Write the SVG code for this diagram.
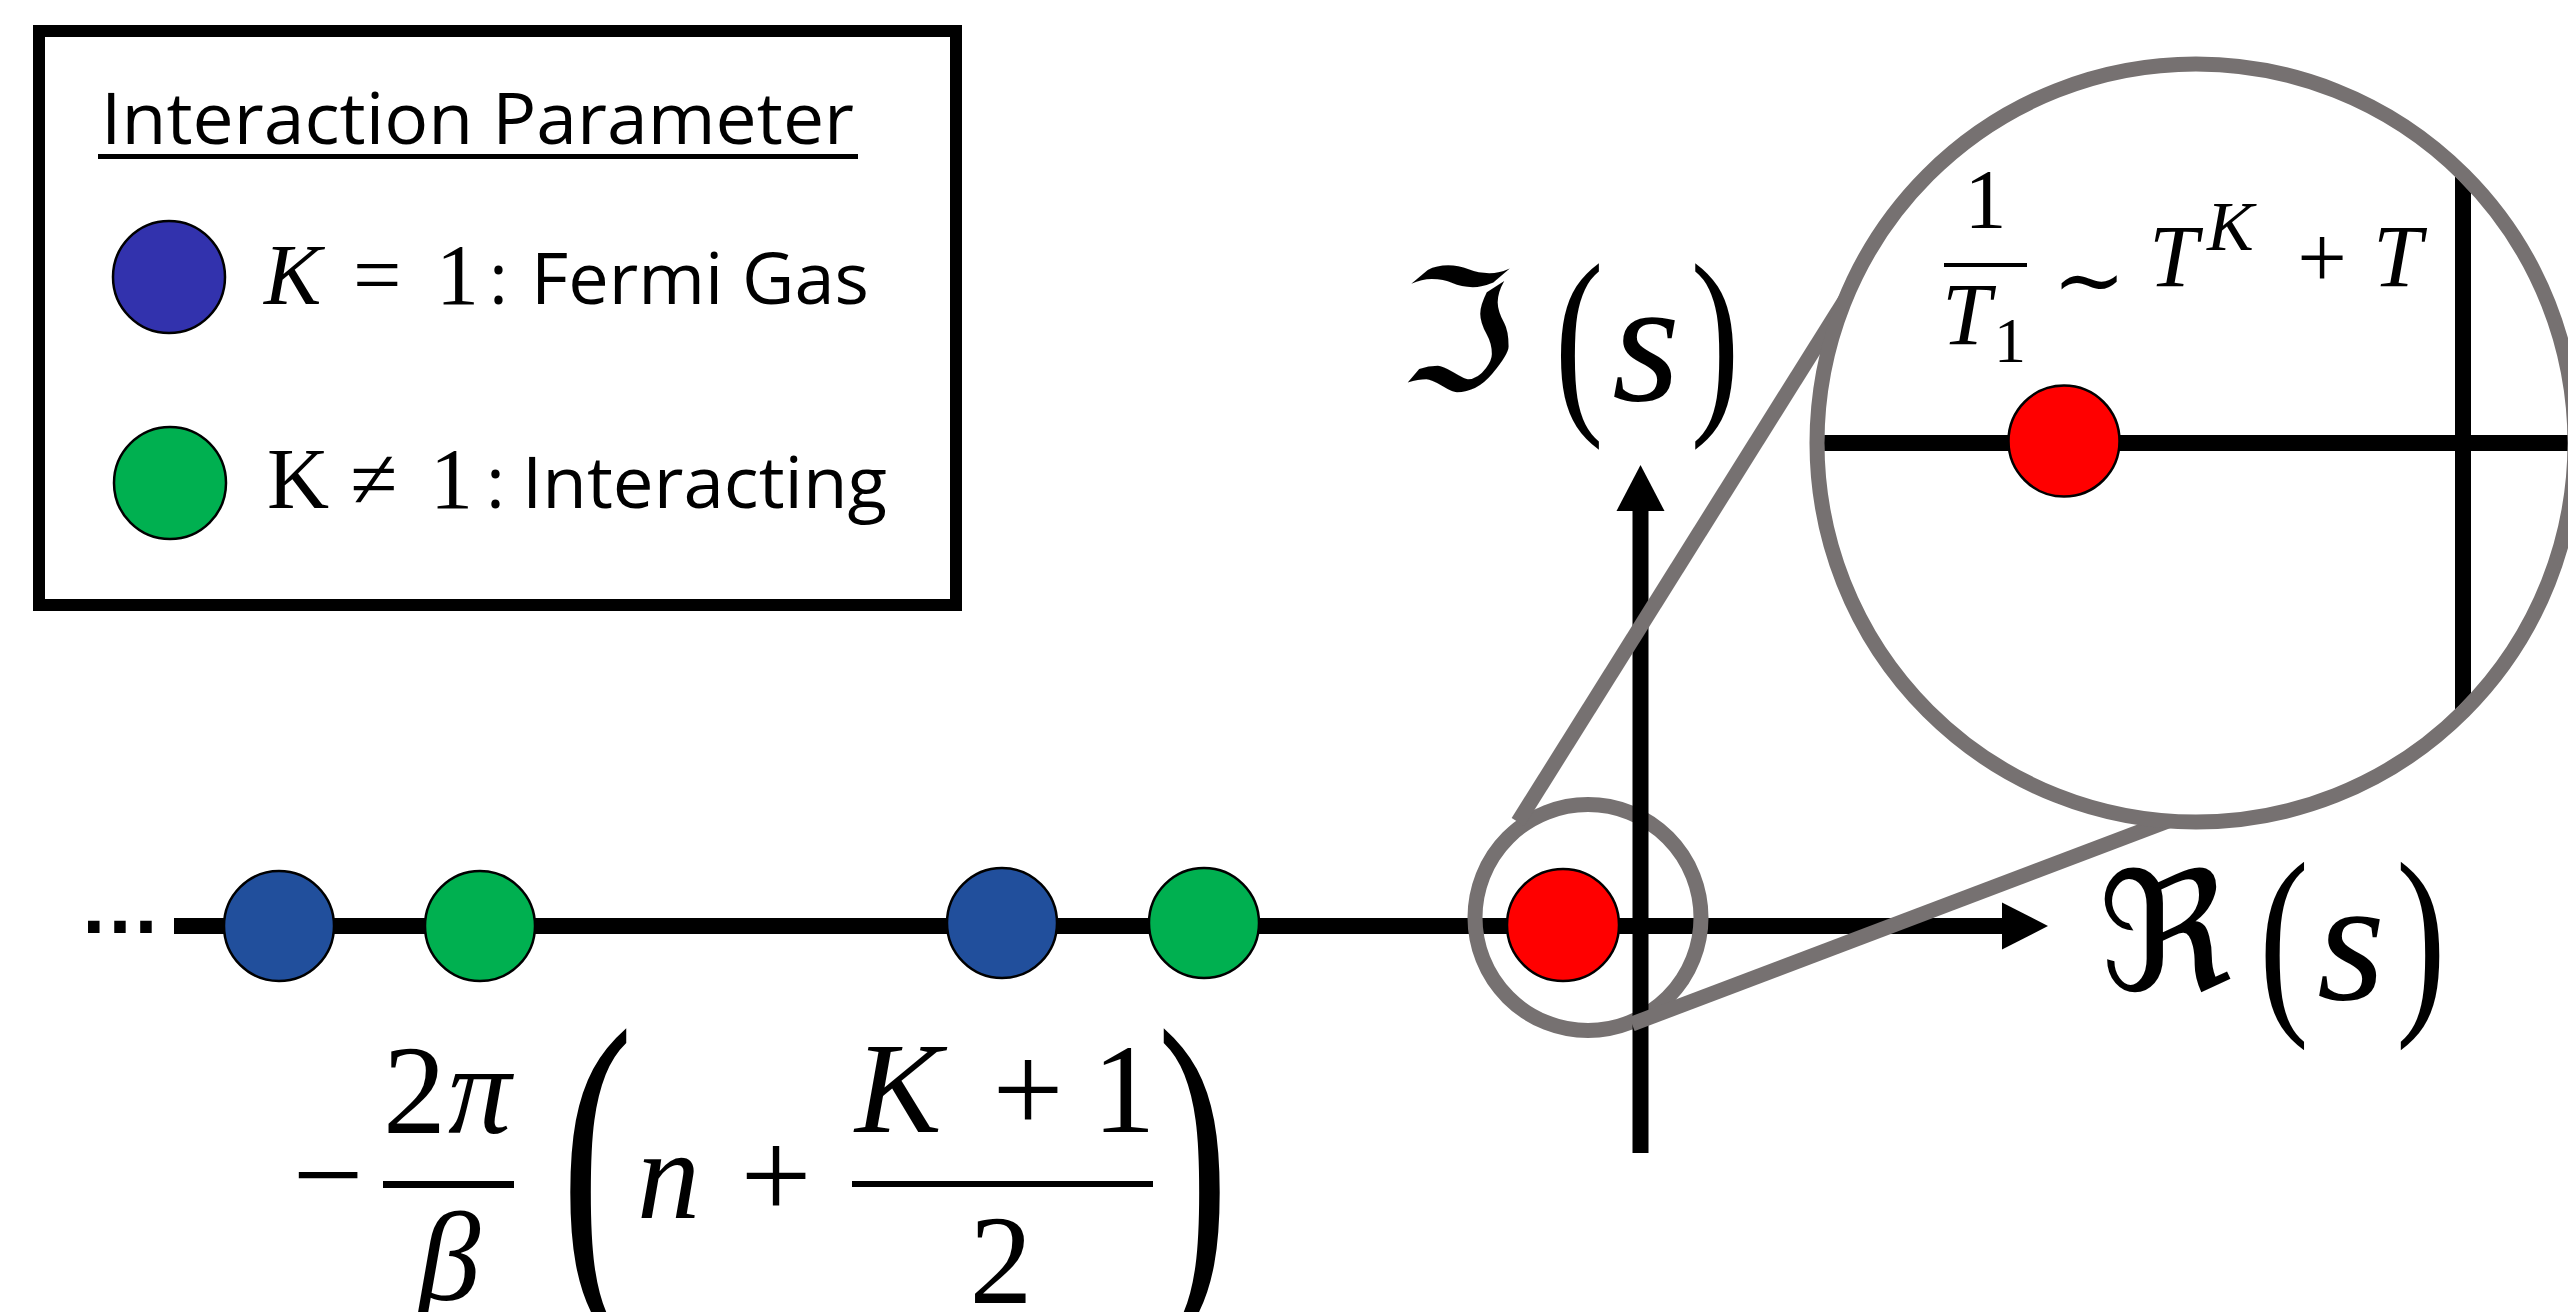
<svg xmlns="http://www.w3.org/2000/svg" width="2568" height="1312" viewBox="0 0 2568 1312">
<style>
.tm{font-family:"Liberation Serif",serif;fill:#000}
.it{font-style:italic}
.sans{font-family:"Open Sans","Liberation Sans",sans-serif;fill:#000}
.frak{font-family:"DejaVu Serif","DejaVu Sans",serif;fill:#000}
.gray{fill:none;stroke:#767171;stroke-width:15}
.dot{stroke:#000;stroke-width:2.5}
.blue{fill:#214F9C}
.lblue{fill:#3232AD}
.green{fill:#00B050}
.red{fill:#FF0000}
</style>
<defs>
<clipPath id="bigclip"><circle cx="2196" cy="443" r="372"/></clipPath>
</defs>
<rect width="2568" height="1312" fill="#fff"/>

<g id="legend">
<rect x="39" y="31" width="917" height="574" fill="#fff" stroke="#000" stroke-width="12"/>
<text class="sans" x="101" y="144" font-size="72" textLength="753" lengthAdjust="spacingAndGlyphs">Interaction Parameter</text>
<rect x="98" y="154" width="760" height="5" fill="#000"/>
<circle class="lblue dot" cx="169" cy="277" r="56"/>
<text class="tm it" x="264" y="304" font-size="86">K</text>
<text class="tm" x="353" y="304" font-size="86">=</text>
<text class="tm" x="436" y="304" font-size="86">1</text>
<text class="sans" x="489" y="304" font-size="72">:</text>
<text class="sans" x="531" y="304" font-size="72" textLength="338" lengthAdjust="spacingAndGlyphs">Fermi Gas</text>
<circle class="green dot" cx="170" cy="483" r="56"/>
<text class="tm" x="267" y="508" font-size="86">K</text>
<text class="tm" x="350" y="508" font-size="86">≠</text>
<text class="tm" x="430" y="508" font-size="86">1</text>
<text class="sans" x="486" y="508" font-size="72">:</text>
<text class="sans" x="522" y="508" font-size="72" textLength="365" lengthAdjust="spacingAndGlyphs">Interacting</text>
</g>

<g id="axes">
<rect x="174" y="918" width="1830" height="16" fill="#000"/>
<polygon points="2048,926 2002,902.5 2002,949.5" fill="#000"/>
</g>

<g id="poles">
<circle class="blue dot" cx="279" cy="926" r="55"/>
<circle class="green dot" cx="480" cy="926" r="55"/>
<circle class="blue dot" cx="1002" cy="923" r="55"/>
<circle class="green dot" cx="1204" cy="923" r="55"/>
<circle class="red dot" cx="1563" cy="925" r="56"/>
</g>
<text x="79" y="933" font-size="82" font-weight="bold" style="font-family:'Liberation Sans',sans-serif">…</text>

<g id="small-lens">
<circle class="gray" cx="1588" cy="917.5" r="113"/>
</g>

<g id="imaginary-axis">
<rect x="1632.5" y="508" width="16" height="645" fill="#000"/>
<polygon points="1640.5,465 1616.5,511 1664.5,511" fill="#000"/>
</g>

<g id="connectors">
<line class="gray" x1="1518" y1="822" x2="1879" y2="246"/>
<line class="gray" x1="1632" y1="1024" x2="2168" y2="821"/>
</g>

<g id="big-lens">
<circle cx="2196" cy="443" r="379" fill="#fff"/>
<g clip-path="url(#bigclip)">
<rect x="1800" y="435" width="800" height="16" fill="#000"/>
<rect x="2455" y="40" width="16" height="800" fill="#000"/>
<circle class="red dot" cx="2064" cy="441" r="55.5"/>
</g>
<circle class="gray" cx="2196" cy="443" r="379" stroke-width="14"/>
</g>

<g id="rate-label">
<text class="tm" x="1985.5" y="228" font-size="84" text-anchor="middle">1</text>
<rect x="1944" y="263" width="83" height="4" fill="#000"/>
<text class="tm it" x="1942" y="344" font-size="88">T</text>
<text class="tm" x="2010" y="362" font-size="64" text-anchor="middle">1</text>
<text class="frak" x="2089" y="310" font-size="88" text-anchor="middle">∼</text>
<text class="tm it" x="2149" y="286" font-size="88">T</text>
<text class="tm it" x="2207" y="250" font-size="70">K</text>
<text class="tm" x="2322" y="287" font-size="88" text-anchor="middle">+</text>
<text class="tm it" x="2373" y="286" font-size="88">T</text>
</g>

<g id="im-label">
<text class="frak" x="1399" y="390" font-size="168">ℑ</text>
<text class="tm" font-size="205" text-anchor="middle" transform="translate(1579,405.6) scale(0.72,1)">(</text>
<text class="tm it" x="1612" y="400" font-size="175">s</text>
<text class="tm" font-size="205" text-anchor="middle" transform="translate(1715,405.6) scale(0.72,1)">)</text>
</g>

<g id="re-label">
<text class="frak" x="2098" y="990" font-size="165">ℜ</text>
<text class="tm" font-size="208" text-anchor="middle" transform="translate(2284,1005.6) scale(0.72,1)">(</text>
<text class="tm it" x="2317" y="999" font-size="175">s</text>
<text class="tm" font-size="208" text-anchor="middle" transform="translate(2421,1005.6) scale(0.72,1)">)</text>
</g>

<g id="pole-formula">
<text class="tm" x="328" y="1217" font-size="126" text-anchor="middle">−</text>
<rect x="383" y="1181" width="131" height="7" fill="#000"/>
<text class="tm" x="383" y="1133" font-size="126">2</text>
<text class="tm it" x="448" y="1133" font-size="126">π</text>
<text class="tm it" x="449" y="1300" font-size="126" text-anchor="middle">β</text>
<text class="tm" font-size="363" text-anchor="middle" transform="translate(597,1280) scale(0.6,1)">(</text>
<text class="tm it" x="637" y="1218" font-size="126">n</text>
<text class="tm" x="776" y="1218" font-size="126" text-anchor="middle">+</text>
<rect x="852" y="1181" width="301" height="6" fill="#000"/>
<text class="tm it" x="855" y="1132" font-size="130">K</text>
<text class="tm" x="1028" y="1132" font-size="126" text-anchor="middle">+</text>
<text class="tm" x="1124" y="1132" font-size="126" text-anchor="middle">1</text>
<text class="tm" x="1001" y="1303" font-size="126" text-anchor="middle">2</text>
<text class="tm" font-size="363" text-anchor="middle" transform="translate(1193,1280) scale(0.6,1)">)</text>
</g>
</svg>
